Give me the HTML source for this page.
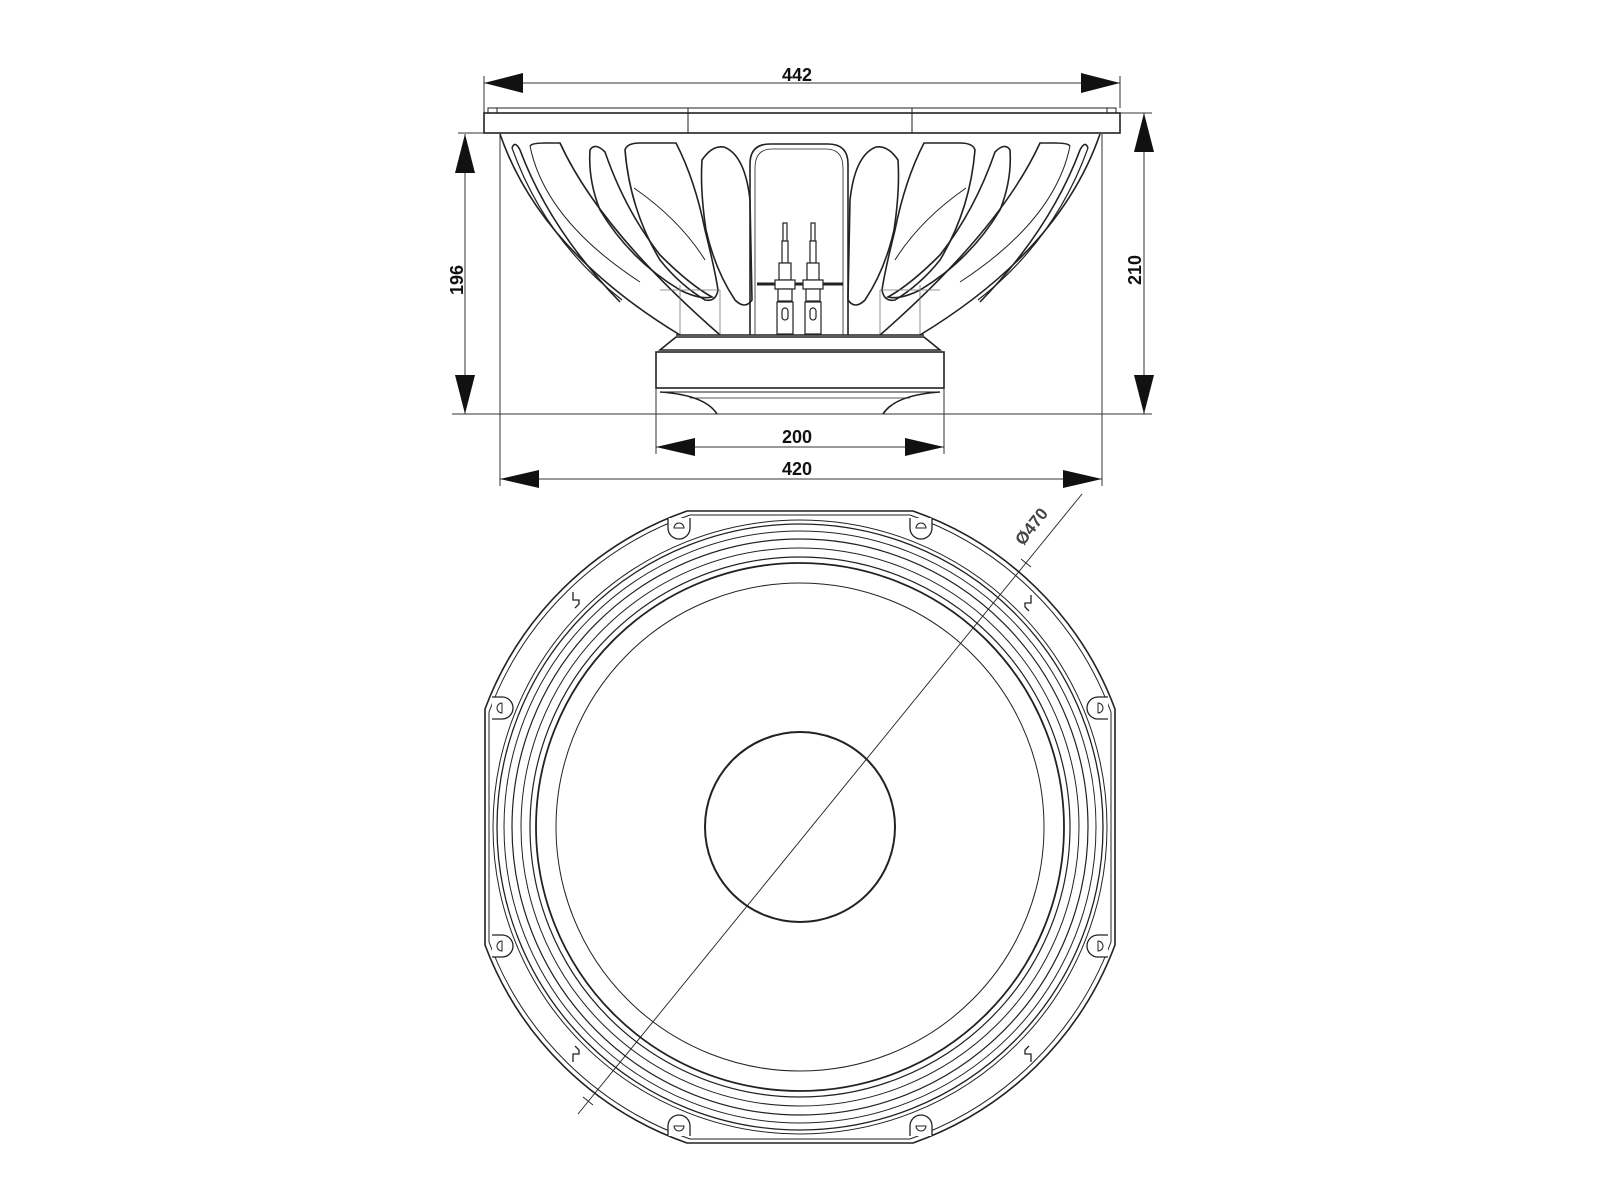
<!DOCTYPE html>
<html><head><meta charset="utf-8"><style>html,body{margin:0;padding:0;background:#fff}svg{display:block}</style></head>
<body>
<svg width="1600" height="1200" viewBox="0 0 1600 1200" xmlns="http://www.w3.org/2000/svg" font-family="Liberation Sans, Arial, sans-serif">
<defs>
<g id="fins" fill="none" stroke="#222" stroke-width="1.6">
  <path d="M500,134 Q540,250 680,335"/>
  <path d="M512,148 Q545,240 622,300" stroke-width="1.2"/>
  <path d="M512,148 Q515,140 520,150 Q550,230 620,302"/>
  <path d="M530,146 Q532,143 545,143 L560,143 Q600,230 720,335"/>
  <path d="M530,146 Q545,220 640,282" stroke-width="1"/>
  <path d="M590,150 Q595,142 605,152 Q625,210 660,255 Q690,285 712,297 Q700,300 680,290 Q630,260 600,210 Q588,180 590,150 Z"/>
  <path d="M625,150 Q627,143 640,143 L676,143 Q695,180 705,230 Q715,270 718,290 Q716,302 705,300 Q680,285 660,260 Q630,210 625,150 Z"/>
  <path d="M634,188 Q680,220 705,260" stroke-width="1"/>
  <path d="M702,160 Q712,145 724,147 Q745,155 750,200 L752,300 Q745,310 735,300 Q715,270 706,230 Q700,190 702,160 Z"/>
  <path d="M680,285 L680,335 M720,290 L720,335 M660,290 L720,290" stroke-width="0.8" stroke="#777"/>
</g>
<g id="tab" fill="#fff" stroke="#222" stroke-width="1.3">
  <path d="M-11,-8 L-11,2 A11,11 0 0 0 11,2 L11,-8"/>
  <path d="M-5,2 A5,5 0 0 1 5,2 Z" stroke-width="1"/>
</g>
<g id="notch" fill="none" stroke="#222" stroke-width="1.3">
  <path d="M-6,-8 L-6,0 L0,0 L0,4 L-4,8"/>
</g>
</defs>

<g stroke="#333" stroke-width="1" fill="none">
  <line x1="484" y1="76" x2="484" y2="133"/>
  <line x1="1120" y1="76" x2="1120" y2="108"/>
  <line x1="458" y1="133" x2="500" y2="133"/>
  <line x1="1105" y1="113" x2="1152" y2="113"/>
  <line x1="452" y1="414" x2="1152" y2="414"/>
  <line x1="500" y1="134" x2="500" y2="486"/>
  <line x1="1102" y1="134" x2="1102" y2="486"/>
  <line x1="656" y1="388" x2="656" y2="454"/>
  <line x1="944" y1="388" x2="944" y2="454"/>
  <line x1="484" y1="83" x2="1120" y2="83"/>
  <line x1="465" y1="134" x2="465" y2="414"/>
  <line x1="1144" y1="113" x2="1144" y2="414"/>
  <line x1="656" y1="447" x2="944" y2="447"/>
  <line x1="500" y1="479" x2="1102" y2="479"/>
</g>
<g fill="#111">
  <polygon points="484,83 523,73 523,93"/><polygon points="1120,83 1081,73 1081,93"/>
  <polygon points="465,134 455,173 475,173"/><polygon points="465,414 455,375 475,375"/>
  <polygon points="1144,113 1134,152 1154,152"/><polygon points="1144,414 1134,375 1154,375"/>
  <polygon points="656,447 695,438 695,456"/><polygon points="944,447 905,438 905,456"/>
  <polygon points="500,479 539,470 539,488"/><polygon points="1102,479 1063,470 1063,488"/>
</g>
<g font-size="18" font-weight="bold" fill="#111" text-anchor="middle">
  <text x="797" y="81">442</text>
  <text x="797" y="443">200</text>
  <text x="797" y="475">420</text>
  <text transform="translate(463,280) rotate(-90)">196</text>
  <text transform="translate(1141,270) rotate(-90)">210</text>
</g>

<g fill="#fff" stroke="#222" stroke-width="1.6">
  <rect x="488" y="108" width="628" height="5" stroke-width="1"/>
  <rect x="484" y="113" width="636" height="20"/>
  <line x1="688" y1="108" x2="688" y2="133" stroke-width="1"/>
  <line x1="912" y1="108" x2="912" y2="133" stroke-width="1"/>
  <line x1="497" y1="108" x2="497" y2="113" stroke-width="1"/>
  <line x1="1107" y1="108" x2="1107" y2="113" stroke-width="1"/>
</g>
<use href="#fins"/>
<use href="#fins" transform="translate(1600,0) scale(-1,1)"/>
<g fill="none" stroke="#222" stroke-width="1.6">
  <path d="M750,335 L750,164 Q750,144 770,144 L828,144 Q848,144 848,164 L848,335"/>
  <path d="M755,335 L755,168 Q755,149 772,149 L826,149 Q843,149 843,168 L843,335" stroke-width="0.8"/>
  <line x1="676" y1="335" x2="924" y2="335"/>
  <line x1="757" y1="284" x2="843" y2="284" stroke-width="3"/>
</g>
<g fill="#fff" stroke="#222" stroke-width="1.2">
  <rect x="783" y="223" width="4" height="18"/><rect x="811" y="223" width="4" height="18"/>
  <rect x="782" y="241" width="6" height="22"/><rect x="810" y="241" width="6" height="22"/>
  <rect x="779" y="263" width="12" height="17"/><rect x="807" y="263" width="12" height="17"/>
  <rect x="775" y="280" width="20" height="9"/><rect x="803" y="280" width="20" height="9"/>
  <rect x="778" y="289" width="14" height="12"/><rect x="806" y="289" width="14" height="12"/>
  <rect x="777" y="302" width="16" height="32"/><rect x="805" y="302" width="16" height="32"/>
  <rect x="782" y="308" width="6" height="12" rx="3"/><rect x="810" y="308" width="6" height="12" rx="3"/>
</g>
<g fill="#fff" stroke="#222" stroke-width="1.6">
  <path d="M676,337 L924,337 L940,350 L660,350 Z"/>
  <rect x="656" y="352" width="288" height="36"/>
  <line x1="660" y1="392" x2="940" y2="392" stroke-width="1"/>
  <path d="M660,392 Q705,395 717,414" fill="none"/>
  <path d="M940,392 Q895,395 883,414" fill="none"/>
  <line x1="690" y1="398" x2="910" y2="398" stroke-width="0.8"/>
</g>

<g fill="none" stroke="#222">
  <path d="M687,511 L913,511 A334,334 0 0 1 1115,709 L1115,945 A334,334 0 0 1 913,1143 L687,1143 A334,334 0 0 1 485,945 L485,709 A334,334 0 0 1 687,511 Z" stroke-width="1.6"/>
  <path d="M690,515 L910,515 A330,330 0 0 1 1111,712 L1111,942 A330,330 0 0 1 910,1139 L690,1139 A330,330 0 0 1 489,942 L489,712 A330,330 0 0 1 690,515 Z" stroke-width="1"/>
  <circle cx="800" cy="827" r="307" stroke-width="1"/>
  <circle cx="800" cy="827" r="303" stroke-width="1.3"/>
  <circle cx="800" cy="827" r="296" stroke-width="1"/>
  <circle cx="800" cy="827" r="288" stroke-width="1.2"/>
  <circle cx="800" cy="827" r="279" stroke-width="1"/>
  <circle cx="800" cy="827" r="270" stroke-width="1.2"/>
  <circle cx="800" cy="827" r="264" stroke-width="1.8"/>
  <circle cx="800" cy="827" r="244" stroke-width="1"/>
  <circle cx="800" cy="827" r="95" stroke-width="2"/>
  <line x1="578" y1="1114" x2="1082" y2="494" stroke-width="0.9"/>
  <line x1="583" y1="1097" x2="593" y2="1105" stroke-width="0.9"/>
  <line x1="1021" y1="559" x2="1031" y2="567" stroke-width="0.9"/>
</g>
<use href="#tab" transform="translate(679,526)"/>
<use href="#tab" transform="translate(921,526)"/>
<use href="#tab" transform="translate(500,708) rotate(-90)"/>
<use href="#tab" transform="translate(500,946) rotate(-90)"/>
<use href="#tab" transform="translate(1100,708) rotate(90)"/>
<use href="#tab" transform="translate(1100,946) rotate(90)"/>
<use href="#tab" transform="translate(679,1128) rotate(180)"/>
<use href="#tab" transform="translate(921,1128) rotate(180)"/>
<use href="#notch" transform="translate(579,600)"/>
<use href="#notch" transform="translate(1025,603) scale(-1,1)"/>
<use href="#notch" transform="translate(579,1054) scale(1,-1)"/>
<use href="#notch" transform="translate(1025,1054) scale(-1,-1)"/>
<text transform="translate(1036,530) rotate(-52)" font-size="17" font-weight="bold" fill="#444" text-anchor="middle">Ø470</text>
</svg>
</body></html>
